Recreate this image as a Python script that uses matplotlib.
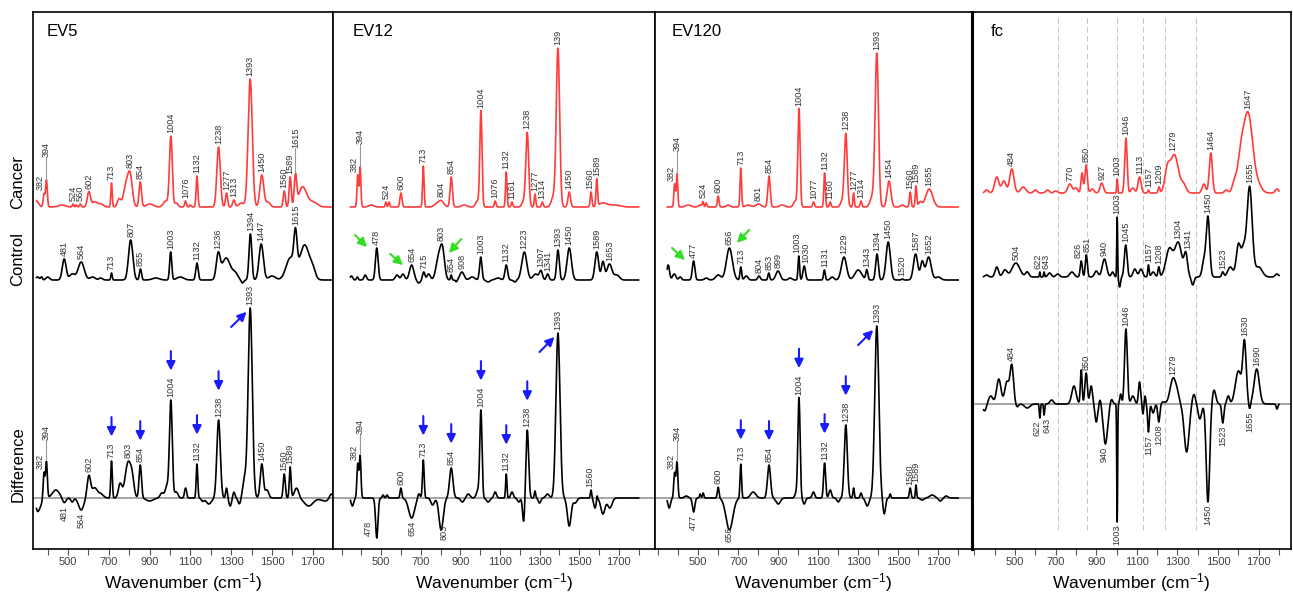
import numpy as np
import matplotlib
matplotlib.use("Agg")
import matplotlib.pyplot as plt
from matplotlib.ticker import FixedLocator, MultipleLocator

plt.rcParams['font.family'] = ['Liberation Sans', 'DejaVu Sans']
plt.rcParams['mathtext.fontset'] = 'custom'
plt.rcParams['mathtext.rm'] = 'Liberation Sans'
plt.rcParams['mathtext.default'] = 'regular'

# wavenumber grid of the spectra
wn = np.arange(345, 1801, 1.0)

# spectra: (position cm-1, height, fwhm cm-1)
ev5_cancer = [(345, 6, 25), (382, 13, 10), (394, 27, 10), (470, 2, 40), (524, 3, 8), (540, 2, 8),
              (560, 3, 10), (602, 15, 18), (630, 5, 30), (660, 3, 30), (713, 24, 8), (750, 8, 20),
              (785, 22, 30), (805, 28, 25), (854, 25, 14), (900, 3, 40), (980, 6, 30), (1004, 70, 16),
              (1030, 4, 20), (1076, 6, 10), (1100, 2, 10), (1132, 31, 10), (1238, 60, 20), (1277, 14, 12),
              (1313, 7, 14), (1350, 4, 30), (1393, 128, 24), (1450, 32, 22), (1480, 5, 25), (1560, 16, 12),
              (1589, 30, 12), (1615, 30, 14), (1650, 20, 45), (1700, 5, 50)]
ev5_control = [(350, 3, 20), (370, 3, 10), (400, 3, 20), (481, 21, 22), (520, 6, 30), (564, 18, 35),
               (620, 3, 30), (660, 2, 20), (713, 7, 8), (807, 40, 25), (855, 11, 12), (930, 2, 40),
               (1003, 28, 12), (1050, 3, 40), (1132, 17, 14), (1236, 24, 22), (1275, 22, 50), (1320, 6, 30),
               (1355, -3, 15), (1394, 46, 16), (1447, 36, 25), (1500, 4, 40), (1590, 22, 50), (1615, 36, 18),
               (1660, 35, 55), (1700, 8, 30)]
ev5_diff = [(350, -12, 20), (365, -6, 20), (382, 26, 10), (394, 36, 10), (440, 8, 40), (481, -5, 20),
            (520, -4, 15), (564, -12, 30), (602, 22, 20), (630, 10, 30), (660, 4, 30), (713, 37, 9),
            (755, 14, 20), (795, 36, 35), (815, 12, 20), (854, 33, 14), (900, -3, 40), (960, 5, 20),
            (985, 12, 20), (1004, 97, 16), (1030, 6, 20), (1076, 10, 12), (1132, 34, 9), (1160, -3, 15),
            (1190, -6, 30), (1238, 78, 20), (1277, 10, 10), (1295, -8, 15), (1313, 6, 12), (1340, -6, 15),
            (1365, 18, 20), (1393, 190, 24), (1450, 34, 18), (1475, 8, 20), (1560, 24, 12), (1589, 31, 10),
            (1620, 10, 25), (1680, -8, 50), (1760, -3, 50), (1790, 5, 20)]

ev12_cancer = [(382, 32, 9), (394, 40, 9), (450, 2, 30), (524, 5, 8), (540, 5, 8), (600, 14, 12),
               (713, 41, 9), (780, 3, 30), (804, 6, 30), (854, 30, 14), (920, 2, 30), (985, 6, 20),
               (1004, 96, 13), (1076, 6, 10), (1132, 35, 9), (1161, 5, 9), (1220, 6, 20), (1238, 74, 17),
               (1277, 13, 9), (1314, 5, 10), (1370, 10, 25), (1393, 158, 20), (1450, 15, 15),
               (1560, 15, 10), (1589, 27, 9), (1620, 4, 50), (1680, 2, 60)]
ev12_control = [(350, 4, 15), (380, 3, 10), (420, 5, 15), (478, 32, 16), (580, 5, 20), (610, 6, 20),
                (654, 15, 25), (690, -3, 20), (715, 8, 14), (740, 6, 20), (790, 22, 30), (810, 28, 25),
                (854, 5, 8), (880, -2, 10), (908, 8, 25), (960, 3, 30), (1003, 23, 14), (1040, -2, 20),
                (1090, 2, 30), (1132, 15, 16), (1175, -2, 15), (1223, 28, 30), (1280, 6, 30), (1307, 9, 18),
                (1341, 6, 15), (1393, 30, 16), (1450, 32, 26), (1589, 28, 22), (1620, 18, 18),
                (1653, 16, 30), (1690, 5, 30)]
ev12_diff = [(355, -8, 15), (382, 34, 10), (394, 42, 10), (478, -40, 14), (510, 3, 10), (530, 3, 10),
             (600, 10, 10), (654, -20, 35), (690, 5, 15), (713, 38, 10), (760, -7, 20), (803, -32, 25),
             (854, 30, 20), (910, -4, 20), (940, 4, 20), (990, 8, 20), (1004, 86, 13), (1040, -4, 20),
             (1076, 6, 15), (1132, 24, 8), (1161, 6, 15), (1195, -4, 15), (1220, -25, 13), (1238, 68, 16),
             (1277, 7, 8), (1300, -5, 15), (1340, 4, 20), (1393, 165, 24), (1450, -28, 22), (1480, -5, 20),
             (1560, 8, 8), (1580, -10, 15), (1590, 5, 6), (1620, -16, 25), (1655, -10, 25)]

ev120_cancer = [(382, 23, 9), (394, 33, 9), (450, 2, 30), (510, 2, 20), (524, 5, 8), (540, 4, 8),
                (600, 11, 10), (650, 2, 20), (713, 39, 9), (750, 2, 30), (801, 3, 30), (854, 31, 14),
                (920, 2, 30), (985, 6, 20), (1004, 98, 13), (1077, 5, 10), (1132, 34, 9), (1160, 5, 9),
                (1220, 6, 20), (1238, 73, 17), (1277, 14, 8), (1314, 6, 10), (1370, 10, 25),
                (1393, 153, 20), (1454, 26, 22), (1520, 2, 20), (1560, 15, 10), (1589, 21, 9),
                (1610, 5, 20), (1655, 18, 40)]
ev120_control = [(350, 15, 15), (380, 6, 20), (410, 3, 15), (477, 19, 15), (540, 2, 20), (600, 5, 30),
                 (656, 32, 35), (713, 13, 10), (740, 4, 20), (804, 4, 15), (853, 7, 10), (899, 9, 25),
                 (960, 2, 20), (1003, 24, 9), (1030, 14, 15), (1131, 10, 10), (1170, 3, 20),
                 (1229, 23, 30), (1300, 10, 40), (1343, 10, 12), (1394, 26, 16), (1450, 38, 25),
                 (1520, 1, 10), (1587, 26, 25), (1620, 18, 20), (1652, 23, 30), (1700, 3, 30)]
ev120_diff = [(355, -10, 15), (382, 25, 10), (394, 36, 10), (440, 2, 20), (477, -14, 14), (510, 4, 8),
              (525, 5, 8), (600, 11, 10), (656, -32, 40), (713, 34, 9), (775, 6, 30), (854, 33, 18),
              (900, -6, 25), (990, 5, 15), (1004, 100, 13), (1030, -6, 15), (1076, 6, 15), (1132, 35, 12),
              (1160, 8, 15), (1200, -4, 15), (1238, 73, 18), (1277, 10, 8), (1314, 5, 10), (1345, -8, 20),
              (1393, 172, 24), (1430, -16, 15), (1460, 4, 8), (1560, 10, 10), (1589, 13, 7),
              (1620, -2, 20), (1670, 3, 30), (1710, -3, 20), (1740, 2, 20)]

fc_cancer = [(360, 3, 20), (410, 16, 25), (445, 12, 25), (484, 24, 25), (540, 6, 30), (600, 3, 20),
             (660, 3, 20), (700, 2, 20), (770, 9, 25), (800, 5, 20), (830, 20, 12), (850, 28, 14),
             (880, 4, 20), (927, 10, 20), (1003, 14, 6), (1046, 55, 14), (1080, 5, 20), (1113, 16, 18),
             (1157, 3, 8), (1209, 6, 10), (1250, 22, 30), (1285, 38, 45), (1330, 8, 30), (1430, 9, 20),
             (1464, 40, 18), (1540, 3, 20), (1580, 10, 25), (1610, 26, 35), (1647, 80, 55),
             (1700, 6, 40), (1790, 4, 20)]
fc_control = [(360, 2, 20), (410, 10, 20), (450, 7, 25), (504, 14, 45), (560, 5, 20), (622, 5, 5),
              (643, 5, 6), (670, 4, 20), (710, 3, 20), (780, 5, 25), (826, 16, 12), (851, 22, 12),
              (900, 6, 20), (940, 18, 25), (980, 5, 15), (1003, 60, 5), (1015, -10, 10), (1045, 32, 16),
              (1090, 8, 20), (1120, 8, 20), (1157, 12, 8), (1180, 5, 20), (1208, 10, 10), (1260, 28, 40),
              (1304, 34, 40), (1341, 22, 20), (1375, -8, 15), (1430, 16, 20), (1450, 60, 20),
              (1523, 5, 12), (1560, 10, 30), (1600, 32, 25), (1625, 26, 25), (1655, 90, 30),
              (1700, 10, 40), (1790, 3, 20)]
fc_diff = [(350, -7, 20), (380, 8, 25), (420, 25, 25), (460, 22, 25), (484, 38, 20), (510, -3, 15),
           (560, -4, 30), (622, -14, 6), (643, -11, 6), (680, 4, 20), (790, 18, 25), (826, 34, 10),
           (850, 31, 14), (875, 18, 15), (900, -18, 15), (920, 6, 12), (945, -40, 25), (975, 5, 15),
           (1003, -118, 5), (1020, 10, 10), (1046, 75, 16), (1080, 8, 20), (1113, 22, 12), (1130, -10, 8),
           (1140, 8, 8), (1157, -28, 10), (1180, -9, 15), (1208, -18, 12), (1230, 2, 20), (1279, 26, 35),
           (1300, 5, 20), (1345, -48, 28), (1380, 10, 20), (1410, -15, 20), (1450, -98, 20),
           (1480, 14, 20), (1523, -19, 12), (1550, 8, 15), (1600, 33, 35), (1630, 60, 20),
           (1655, -6, 10), (1690, 35, 30), (1790, -5, 10)]

# peak labels (above / below the curve)
ev5_cancer_lab = [382, 394, 524, 560, 602, 713, 803, 854, 1004, 1076, 1132, 1238, 1277, 1313, 1393,
                  1450, 1560, 1589, 1615]
ev5_control_lab = [481, 564, 713, 807, 855, 1003, 1132, 1236, 1394, 1447, 1615]
ev5_diff_lab = [382, 394, 602, 713, 803, 854, 1004, 1132, 1238, 1393, 1450, 1560, 1589]
ev5_diff_low = [481, 564]

ev12_cancer_lab = [382, 394, 524, 600, 713, 804, 854, 1004, 1076, 1132, 1161, 1238, 1277, 1314, 1393,
                   1450, 1560, 1589]
ev12_control_lab = [478, 654, 715, 803, 854, 908, 1003, 1132, 1223, 1307, 1341, 1393, 1450, 1589, 1653]
ev12_diff_lab = [382, 394, 600, 713, 854, 1004, 1132, 1238, 1393, 1560]
ev12_diff_low = [478, 654, 803]

ev120_cancer_lab = [382, 394, 524, 600, 713, 801, 854, 1004, 1077, 1132, 1160, 1238, 1277, 1314, 1393,
                    1454, 1560, 1589, 1655]
ev120_control_lab = [477, 656, 713, 804, 853, 899, 1003, 1030, 1131, 1229, 1343, 1394, 1450, 1520,
                     1587, 1652]
ev120_diff_lab = [382, 394, 600, 713, 854, 1004, 1132, 1238, 1393, 1560, 1589]
ev120_diff_low = [477, 656]

fc_cancer_lab = [484, 770, 850, 927, 1003, 1046, 1113, 1157, 1209, 1279, 1464, 1647]
fc_control_lab = [504, 622, 643, 826, 851, 940, 1003, 1045, 1157, 1208, 1304, 1341, 1450, 1523, 1655]
fc_diff_lab = [484, 850, 1046, 1279, 1630, 1690]
fc_diff_low = [622, 643, 940, 1003, 1157, 1208, 1450, 1523, 1655]

marker_bands = [713, 854, 1004, 1132, 1238, 1393]
titles = ['EV5', 'EV12', 'EV120', 'fc']
tick_values = [500, 700, 900, 1100, 1300, 1500, 1700]

RED = '#ff3b3b'
BLUE = '#1a1aff'
GREEN = '#33dd22'
TXT = '#333333'
FS = 6.6


def spectrum(peaks):
    y = np.zeros_like(wn)
    for p, a, w in peaks:
        y += a * np.exp(-4 * np.log(2) * (wn - p) ** 2 / w ** 2)
    return y


def put_labels(ax, y, labels, below=False, nudge=None, lift=None, rename=None):
    nudge = nudge or {}
    lift = lift or {}
    rename = rename or {}
    tops = {}
    for p in labels:
        sel = np.abs(wn - p) <= 5
        v = y[sel].min() if below else y[sel].max()
        tx = p + nudge.get(p, 0)
        s = rename.get(p, str(p))
        lf = lift.get(p, 0)
        if below:
            ax.text(tx, v - 3 + lf, s, rotation=90, ha='center', va='top', fontsize=FS, color=TXT)
        else:
            ax.text(tx, v + 3 + lf, s, rotation=90, ha='center', va='bottom', fontsize=FS,
                    color=TXT, clip_on=True)
            if lf:
                ax.plot([tx, tx], [v + 1, v + 3 + lf], color='#999999', lw=0.8)
            tops[p] = v + 3 + lf + 4.9 * len(s) + 1
    return tops


def blue_arrows(ax, y, tops):
    for p in marker_bands[:-1]:
        t = tops[p] + 3
        ax.annotate('', xy=(p, t), xytext=(p, t + 25),
                    arrowprops=dict(arrowstyle='-|>', color=BLUE, lw=1.5, mutation_scale=13))
    v = y[np.abs(wn - 1393) <= 5].max()
    ax.annotate('', xy=(1385, v - 2), xytext=(1290, v - 21),
                arrowprops=dict(arrowstyle='-|>', color=BLUE, lw=1.5, mutation_scale=13))


W, H = 1293, 592
fig = plt.figure(figsize=(W / 100, H / 100), dpi=100)

# panel boxes in pixels and their wavenumber windows
boxes = [(33, 333, 328, 1799), (333, 655, 257, 1883), (655, 972, 284, 1869), (972, 1291, 288, 1859)]
top_px, bot_px = 12, 549
axes = []
for (x0, x1, w0, w1) in boxes:
    ax = fig.add_axes([x0 / W, (H - bot_px) / H, (x1 - x0) / W, (bot_px - top_px) / H])
    ax.set_xlim(w0, w1)
    ax.set_ylim(0, bot_px - top_px)
    ax.set_yticks([])
    ax.xaxis.set_major_locator(FixedLocator(tick_values))
    ax.xaxis.set_minor_locator(MultipleLocator(100))
    ax.tick_params(axis='x', which='both', direction='out', length=4, width=0.8, color='#555555',
                   labelsize=8, labelcolor='#404040', pad=2)
    ax.set_xlabel('Wavenumber (cm$^{-1}$)', fontsize=12.5, labelpad=3)
    for sp in ax.spines.values():
        sp.set_linewidth(1.2)
    axes.append(ax)
axes[2].spines['right'].set_linewidth(2.2)
axes[3].spines['left'].set_linewidth(2.2)

sets = [
    (ev5_cancer, ev5_control, ev5_diff, ev5_cancer_lab, ev5_control_lab, ev5_diff_lab, ev5_diff_low),
    (ev12_cancer, ev12_control, ev12_diff, ev12_cancer_lab, ev12_control_lab, ev12_diff_lab, ev12_diff_low),
    (ev120_cancer, ev120_control, ev120_diff, ev120_cancer_lab, ev120_control_lab, ev120_diff_lab,
     ev120_diff_low),
    (fc_cancer, fc_control, fc_diff, fc_cancer_lab, fc_control_lab, fc_diff_lab, fc_diff_low),
]
# baselines of the stacked spectra (pixels from the bottom of the box)
base = [(342, 269, 51), (342, 269, 51), (342, 269, 51), (356, 272, 145)]
title_dx = [14, 20, 17, 19]

# label nudges (x shift in cm-1, lift in px)
ctrl_nudge = [{}, {}, {1003: -8, 1030: 10}, {622: -10, 643: 10, 826: -15, 851: 5, 1341: 10}]
low_nudge = [{}, {478: -42, 803: 14}, {}, {622: -12, 643: 12}]
low_lift = [{}, {478: 20, 803: 8}, {656: 6}, {}]

for i, ax in enumerate(axes):
    canc, ctrl, diff, lc, lk, ld, ldl = sets[i]
    b_ca, b_co, b_di = base[i]
    yc = spectrum(canc) + b_ca
    yk = spectrum(ctrl) + b_co
    yd = spectrum(diff) + b_di

    if i == 3:
        for p in marker_bands:
            ax.plot([p, p], [19, 534], color='#c8c8c8', lw=0.8, ls=(0, (5, 3)), zorder=0)

    ax.axhline(b_di, color='#8c8c8c', lw=1.1, zorder=1)
    ax.plot(wn, yc, color=RED, lw=1.2)
    ax.plot(wn, yk, color='black', lw=1.2)
    ax.plot(wn, yd, color='black', lw=1.2)

    x0, x1 = boxes[i][0], boxes[i][1]
    ax.text(title_dx[i] / (x1 - x0), 1 - 19 / (bot_px - top_px), titles[i], transform=ax.transAxes,
            fontsize=12, va='center', ha='left')

    if i < 3:
        rn = {1393: '139'} if i == 1 else None
        put_labels(ax, yc, lc, nudge={382: -18, 1560: -4},
                   lift={394: 20, 1615: 22} if i == 0 else {394: 20}, rename=rn)
        put_labels(ax, yk, lk, nudge=ctrl_nudge[i])
        tops = put_labels(ax, yd, ld, nudge={382: -18, 803: -9, 1560: -4}, lift={394: 18})
        put_labels(ax, yd, ldl, below=True, nudge=low_nudge[i], lift=low_lift[i])
        blue_arrows(ax, yd, tops)
    else:
        put_labels(ax, yc, lc)
        put_labels(ax, yk, lk, nudge=ctrl_nudge[i])
        put_labels(ax, yd, ld)
        put_labels(ax, yd, ldl, below=True, nudge=low_nudge[i], lift=low_lift[i])

# green arrows on the control spectra
green = [(1, 358, 316, 439, 300), (1, 535, 297, 621, 282), (1, 914, 312, 833, 294),
         (2, 359, 303, 444, 287), (2, 764, 321, 684, 304)]
for k, xa, ya, xb, yb in green:
    axes[k].annotate('', xy=(xb, yb), xytext=(xa, ya),
                     arrowprops=dict(arrowstyle='-|>', color=GREEN, lw=1.5, mutation_scale=13))

for name, yc in [('Cancer', 182), ('Control', 259), ('Difference', 464)]:
    fig.text(18 / W, 1 - yc / H, name, rotation=90, ha='center', va='center', fontsize=12)

fig.savefig('out.png', dpi=100)
